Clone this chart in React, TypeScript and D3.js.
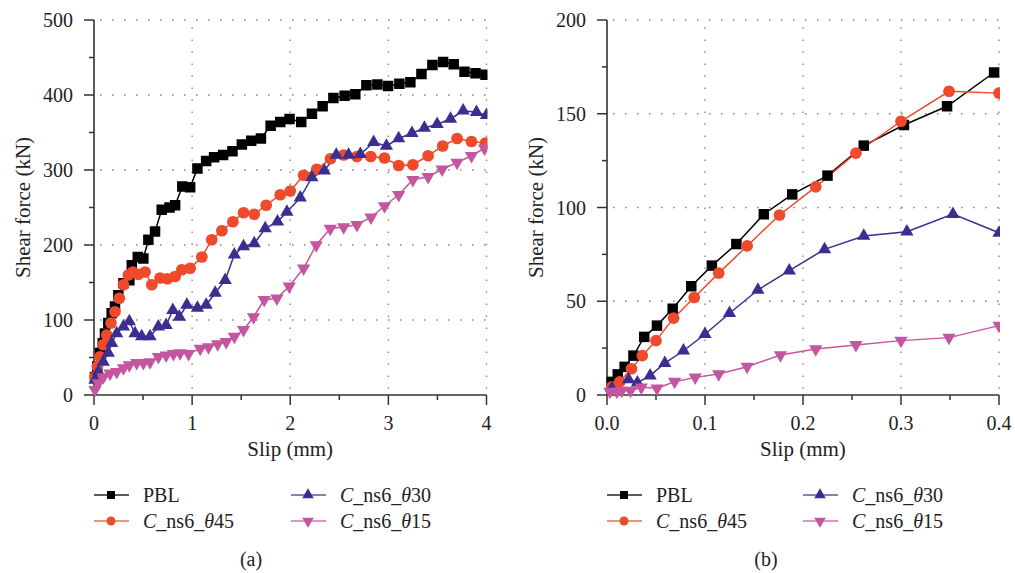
import React from "react";
import * as d3 from "d3";

// ---------- Data: panel (a) ----------
const pblAX = [0.01,0.034,0.061,0.089,0.112,0.146,0.18,0.214,0.248,0.3,0.36,0.385,0.446,0.503,0.554,0.622,0.69,0.77,0.827,0.9,0.98,1.054,1.143,1.224,1.316,1.411,1.507,1.602,1.701,1.8,1.898,1.993,2.112,2.221,2.33,2.44,2.554,2.663,2.776,2.888,2.997,3.112,3.224,3.337,3.449,3.558,3.666,3.776,3.888,3.99];
const pblAY = [24,38,56,69,82,96,109,118,133,149,153,173,184,182,207,218,247,250,253,278,277,302,312,317,320,325,334,339,342,359,364,368,364,375,385,396,399,401,413,414,412,415,417,428,440,444,441,431,429,427];

const t45AX = [0.01,0.034,0.061,0.095,0.13,0.173,0.214,0.258,0.3,0.35,0.395,0.452,0.52,0.589,0.673,0.748,0.827,0.895,0.98,1.099,1.2,1.303,1.415,1.524,1.633,1.755,1.898,2.0,2.136,2.27,2.41,2.544,2.68,2.82,2.96,3.105,3.25,3.405,3.554,3.7,3.847,3.99];
const t45AY = [24,38,51,67,80,96,111,129,147,160,164,161,164,147,156,155,158,167,169,184,207,219,231,243,241,253,267,272,293,301,315,320,318,318,316,306,307,319,332,342,338,336];

const t30AX = [0.01,0.044,0.095,0.146,0.18,0.231,0.3,0.36,0.418,0.486,0.571,0.656,0.735,0.803,0.87,0.946,1.054,1.143,1.235,1.337,1.43,1.524,1.633,1.745,1.87,1.966,2.102,2.22,2.347,2.469,2.595,2.714,2.85,2.98,3.105,3.24,3.367,3.497,3.633,3.762,3.898,4.0];
const t30AY = [20,31,44,56,69,82,91,98,82,78,78,91,93,113,104,120,116,120,136,153,187,198,202,222,231,244,263,290,299,320,320,321,337,332,342,349,356,361,368,379,377,373];

const t15AX = [0.01,0.044,0.095,0.163,0.231,0.3,0.36,0.435,0.503,0.571,0.656,0.735,0.81,0.877,0.963,1.082,1.167,1.26,1.347,1.43,1.524,1.626,1.735,1.864,1.99,2.136,2.265,2.408,2.544,2.68,2.823,2.96,3.105,3.25,3.405,3.548,3.7,3.847,3.98];
const t15AY = [7,16,24,29,31,36,40,43,43,44,51,53,55,56,55,62,64,68,71,78,87,104,127,129,145,169,200,222,224,227,237,252,267,287,291,301,310,319,329];

// ---------- Data: panel (b) ----------
const pblBX = [0.005,0.011,0.018,0.027,0.038,0.051,0.067,0.086,0.107,0.132,0.16,0.189,0.225,0.262,0.303,0.347,0.395];
const pblBY = [7,11,15,21,31,37,46,58,69,80.5,96.4,107,117,133,144,154,172];

const t45BX = [0.005,0.013,0.025,0.036,0.05,0.068,0.089,0.114,0.143,0.176,0.213,0.254,0.3,0.349,0.4];
const t45BY = [4.4,7,14,21,29,41,52,65,79.5,96,111,129,146,162,161];

const t30BX = [0.005,0.022,0.031,0.044,0.059,0.078,0.1,0.125,0.154,0.186,0.222,0.262,0.306,0.353,0.4];
const t30BY = [3.6,8.3,6.6,10.3,17,23.6,32.4,43.6,56,66.3,77.7,84.8,87.1,96.5,86.5];

const t15BX = [0.003,0.01,0.015,0.024,0.035,0.051,0.069,0.09,0.114,0.143,0.177,0.213,0.254,0.3,0.349,0.4];
const t15BY = [1.8,1.8,2.3,2.3,4.1,3.6,7.1,9.4,11.2,15.1,21.3,24.5,26.7,29,30.6,37];

// ---------- Ticks ----------
const yTicksA = [0, 100, 200, 300, 400, 500];
const xTicksA = [0, 1, 2, 3, 4];
const yTicksB = [0, 50, 100, 150, 200];
const xTicksB = [0, 0.1, 0.2, 0.3, 0.4];

const seriesNames = ["PBL", "θ45", "θ30", "θ15"];

const COLORS = ["#000000", "#EF4A2B", "#3A2E90", "#C4559F"];
const FONT = "'Liberation Serif', 'DejaVu Serif', serif";
const FS = 20;

type Series = { x: number[]; y: number[] };

function markerPath(i: number, size: number) {
  const types = [d3.symbolSquare, d3.symbolCircle, d3.symbolTriangle, d3.symbolTriangle];
  return d3.symbol().type(types[i]).size(size)() as string;
}
const MARK_SIZES = [110, 108, 76, 76];

function Panel(props: {
  id: string;
  x0: number; x1: number; y0: number; y1: number;
  xDomain: [number, number]; yDomain: [number, number];
  xTicks: number[]; yTicks: number[];
  xFmt: (v: number) => string;
  series: Series[];
}) {
  const { id, x0, x1, y0, y1, xDomain, yDomain, xTicks, yTicks, xFmt, series } = props;
  const xs = d3.scaleLinear().domain(xDomain).range([x0, x1]);
  const ys = d3.scaleLinear().domain(yDomain).range([y0, y1]);
  const xStep = xTicks[1] - xTicks[0];
  const yStep = yTicks[1] - yTicks[0];
  const xMinor = xTicks.slice(0, -1).map((t) => t + xStep / 2);
  const yMinor = yTicks.slice(0, -1).map((t) => t + yStep / 2);
  const axisColor = "#333";
  const grid = { stroke: "#888", strokeWidth: 1.4, strokeDasharray: "1.6 10.4" };
  const line = d3.line<[number, number]>().x((d) => xs(d[0])).y((d) => ys(d[1]));
  return (
    <g>
      <defs>
        <clipPath id={id}>
          <rect x={x0 - 12} y={y1 - 12} width={x1 - x0 + 13} height={y0 - y1 + 24} />
        </clipPath>
      </defs>
      {/* grid */}
      {yTicks.filter((t) => t !== yDomain[0]).map((t) => (
        <line key={"gy" + t} x1={x0 + 6} x2={x1} y1={ys(t)} y2={ys(t)} {...grid} />
      ))}
      {xTicks.filter((t) => t !== xDomain[0]).map((t) => (
        <line key={"gx" + t} x1={xs(t)} x2={xs(t)} y1={y0 - 6} y2={y1} {...grid} />
      ))}
      {/* axes */}
      <line x1={x0} x2={x0} y1={y0} y2={y1} stroke={axisColor} strokeWidth={1.6} />
      <line x1={x0} x2={x1} y1={y0} y2={y0} stroke={axisColor} strokeWidth={1.6} />
      {yTicks.map((t) => (
        <line key={"ty" + t} x1={x0 - 10} x2={x0} y1={ys(t)} y2={ys(t)} stroke={axisColor} strokeWidth={1.5} />
      ))}
      {yMinor.map((t) => (
        <line key={"my" + t} x1={x0 - 5} x2={x0} y1={ys(t)} y2={ys(t)} stroke={axisColor} strokeWidth={1.5} />
      ))}
      {xTicks.map((t) => (
        <line key={"tx" + t} x1={xs(t)} x2={xs(t)} y1={y0} y2={y0 + 10} stroke={axisColor} strokeWidth={1.5} />
      ))}
      {xMinor.map((t) => (
        <line key={"mx" + t} x1={xs(t)} x2={xs(t)} y1={y0} y2={y0 + 5} stroke={axisColor} strokeWidth={1.5} />
      ))}
      {yTicks.map((t) => (
        <text key={"ly" + t} x={x0 - 21} y={ys(t)} dy="0.35em" textAnchor="end" fontSize={FS} fontFamily={FONT} fill="#222">
          {t}
        </text>
      ))}
      {xTicks.map((t) => (
        <text key={"lx" + t} x={xs(t)} y={y0 + 35} textAnchor="middle" fontSize={FS} fontFamily={FONT} fill="#222">
          {xFmt(t)}
        </text>
      ))}
      <text
        transform={`translate(${x0 - 71},${(y0 + y1) / 2}) rotate(-90)`}
        dy="0.35em"
        textAnchor="middle"
        fontSize={FS + 1}
        fontFamily={FONT}
        fill="#222"
      >
        Shear force (kN)
      </text>
      <text x={(x0 + x1) / 2} y={y0 + 61} textAnchor="middle" fontSize={FS + 1} fontFamily={FONT} fill="#222">
        Slip (mm)
      </text>
      {/* series */}
      <g clipPath={`url(#${id})`}>
        {series.map((s, i) => (
          <path
            key={"l" + i}
            d={line(s.x.map((v, k) => [v, s.y[k]] as [number, number])) as string}
            fill="none"
            stroke={COLORS[i]}
            strokeWidth={1.5}
          />
        ))}
        {series.map((s, i) =>
          s.x.map((v, k) => (
            <path
              key={"m" + i + "-" + k}
              d={markerPath(i, MARK_SIZES[i])}
              transform={`translate(${xs(v)},${ys(s.y[k])})${i === 3 ? " rotate(180)" : ""}`}
              fill={COLORS[i]}
            />
          ))
        )}
      </g>
    </g>
  );
}

function LegendLabel(props: { name: string }) {
  if (props.name === "PBL") return <tspan>PBL</tspan>;
  const num = props.name.slice(1);
  return (
    <>
      <tspan fontStyle="italic">C</tspan>
      <tspan>_ns6_</tspan>
      <tspan fontStyle="italic">θ</tspan>
      <tspan>{num}</tspan>
    </>
  );
}

function Legend(props: { x: number; y: number; col2: number; caption: string; capX: number }) {
  const { x, y, col2, caption, capX } = props;
  const pos = [
    [x, y],
    [x, y + 26],
    [x + col2, y],
    [x + col2, y + 26],
  ];
  return (
    <g>
      {seriesNames.map((n, i) => {
        const [lx, ly] = pos[i];
        return (
          <g key={n}>
            <line x1={lx} x2={lx + 35} y1={ly} y2={ly} stroke={COLORS[i]} strokeWidth={1.5} opacity={i === 0 ? 0.85 : 0.8} />
            <path
              d={markerPath(i, i < 2 ? 64 : 58)}
              transform={`translate(${lx + 17},${ly})${i === 3 ? " rotate(180)" : ""}`}
              fill={COLORS[i]}
            />
            <text x={lx + 49} y={ly} dy="0.35em" fontSize={FS} fontFamily={FONT} fill="#222">
              <LegendLabel name={n} />
            </text>
          </g>
        );
      })}
      <text x={capX} y={y + 64} dy="0.35em" textAnchor="middle" fontSize={FS} fontFamily={FONT} fill="#222">
        {caption}
      </text>
    </g>
  );
}

export default function App() {
  const seriesA: Series[] = [
    { x: pblAX, y: pblAY },
    { x: t45AX, y: t45AY },
    { x: t30AX, y: t30AY },
    { x: t15AX, y: t15AY },
  ];
  const seriesB: Series[] = [
    { x: pblBX, y: pblBY },
    { x: t45BX, y: t45BY },
    { x: t30BX, y: t30BY },
    { x: t15BX, y: t15BY },
  ];
  return (
    <svg
      width={1015}
      height={573}
      style={{ position: "absolute", left: 0, top: 0, background: "#fff" }}
    >
      <rect width={1015} height={573} fill="#fff" />
      <Panel
        id="clipA"
        x0={94} x1={486.5} y0={395} y1={20}
        xDomain={[0, 4]} yDomain={[0, 500]}
        xTicks={xTicksA} yTicks={yTicksA}
        xFmt={(v) => d3.format("d")(v)}
        series={seriesA}
      />
      <Panel
        id="clipB"
        x0={607} x1={999} y0={395} y1={20}
        xDomain={[0, 0.4]} yDomain={[0, 200]}
        xTicks={xTicksB} yTicks={yTicksB}
        xFmt={(v) => d3.format(".1f")(v)}
        series={seriesB}
      />
      <Legend x={94} y={495} col2={197} caption="(a)" capX={251} />
      <Legend x={607} y={495} col2={196} caption="(b)" capX={766} />
    </svg>
  );
}
